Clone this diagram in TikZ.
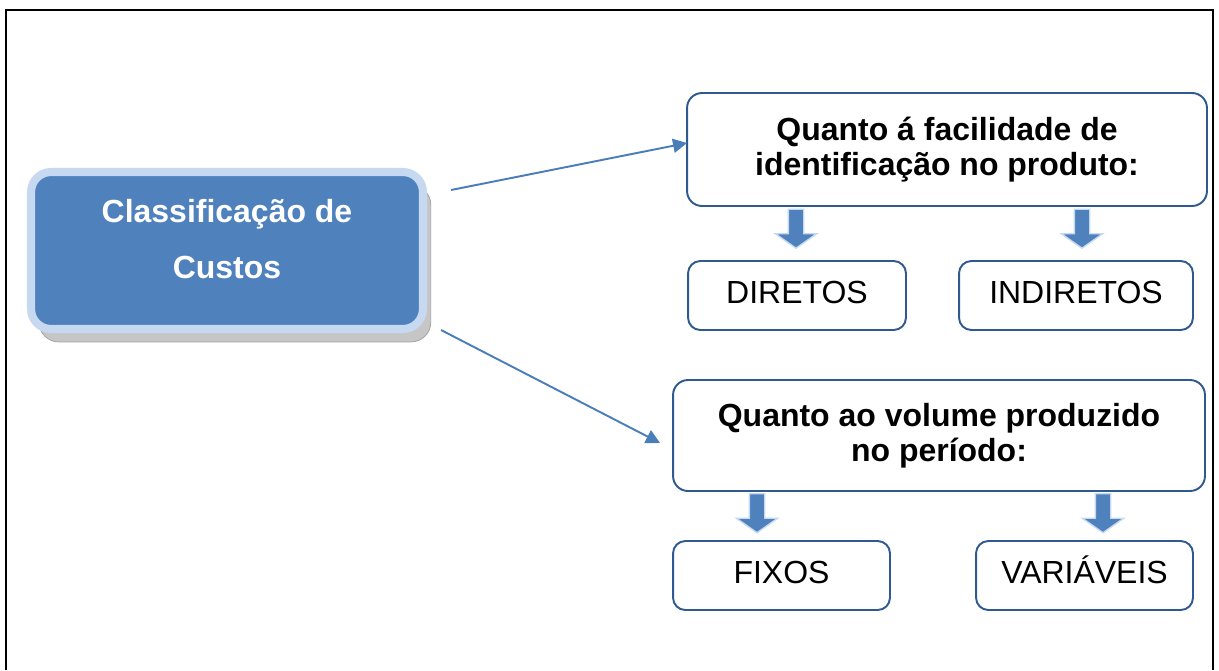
\documentclass[tikz,border=0pt]{standalone}
\usepackage{fontspec}
\setmainfont{Liberation Sans}
\usetikzlibrary{arrows.meta,shapes.arrows,shadows}
\definecolor{azul}{HTML}{4F81BD}
\definecolor{azulclaro}{HTML}{C6D9F1}
\definecolor{azulborda}{HTML}{2F5A8F}
\definecolor{azullinha}{HTML}{4A7EBB}
\tikzset{
  caixa/.style={draw=azulborda, line width=1.1pt, fill=white, align=center, inner sep=0pt},
  titulo/.style={caixa, rounded corners=8.5pt, font=\fontsize{18.2}{20}\selectfont\bfseries},
  tipo/.style={caixa, rounded corners=7pt, minimum height=1.38cm, text height=13pt, text depth=4.4pt,
    font=\fontsize{18.2}{20}\selectfont},
  principal/.style={fill=azul, draw=azulclaro, line width=4.6pt, rounded corners=0.4cm,
    minimum width=7.84cm, minimum height=3.14cm,
    general shadow={shadow xshift=4.5pt, shadow yshift=-7.4pt, fill=gray!45, draw=gray!75, line width=0.4pt}},
  rotulo/.style={text=white, align=center, font=\fontsize{18.2}{32}\selectfont\bfseries},
  seta/.style={azullinha, line width=1.1pt, -{Triangle[width=8pt,length=8pt]}},
  bloco/.style={single arrow, fill=azul, draw=azulclaro, line width=0.8pt, rotate=-90,
    minimum height=0.78cm, inner sep=0pt, inner ysep=0.14cm, single arrow head extend=0.26cm,
    single arrow tip angle=110}
}
\begin{document}
\begin{tikzpicture}[x=0.02cm, y=-0.02cm]
  \useasboundingbox (0,0) rectangle (1219,670);
  % moldura
  \draw[line width=1.4pt] (6,670) -- (6,10) -- (1213,10) -- (1213,670);
  % caixa principal
  \node[principal] (main) at (227,250.5) {};
  \node[rotulo] (mainlbl) at (227,239) {Classificação de\\Custos};
  % quanto a identificacao
  \node[titulo, minimum width=10.4cm, minimum height=2.26cm] (q1) at (947,149.5)
    {Quanto á facilidade de\\identificação no produto:};
  \node[tipo, minimum width=4.36cm] (diretos) at (797,295.5) {DIRETOS};
  \node[tipo, minimum width=4.68cm] (indiretos) at (1076,295.5) {INDIRETOS};
  \node[bloco] (b1) at (796,226) {};
  \node[bloco] (b2) at (1082,226) {};
  % quanto ao volume
  \node[titulo, minimum width=10.64cm, minimum height=2.22cm] (q2) at (939,435.5)
    {Quanto ao volume produzido\\no período:};
  \node[tipo, minimum width=4.34cm] (fixos) at (781.5,575.5) {FIXOS};
  \node[tipo, minimum width=4.34cm] (variaveis) at (1084.5,575.5) {VARIÁVEIS};
  \node[bloco] (b3) at (757,510.5) {};
  \node[bloco] (b4) at (1103,510.5) {};
  % ligacoes
  \draw[seta] ([shift={(24,-60.5)}]main.east) -- ([shift={(1,-6.5)}]q1.west);
  \draw[seta] ([shift={(14,79.5)}]main.east) -- ([shift={(-12,7.5)}]q2.west);
\end{tikzpicture}
\end{document}
